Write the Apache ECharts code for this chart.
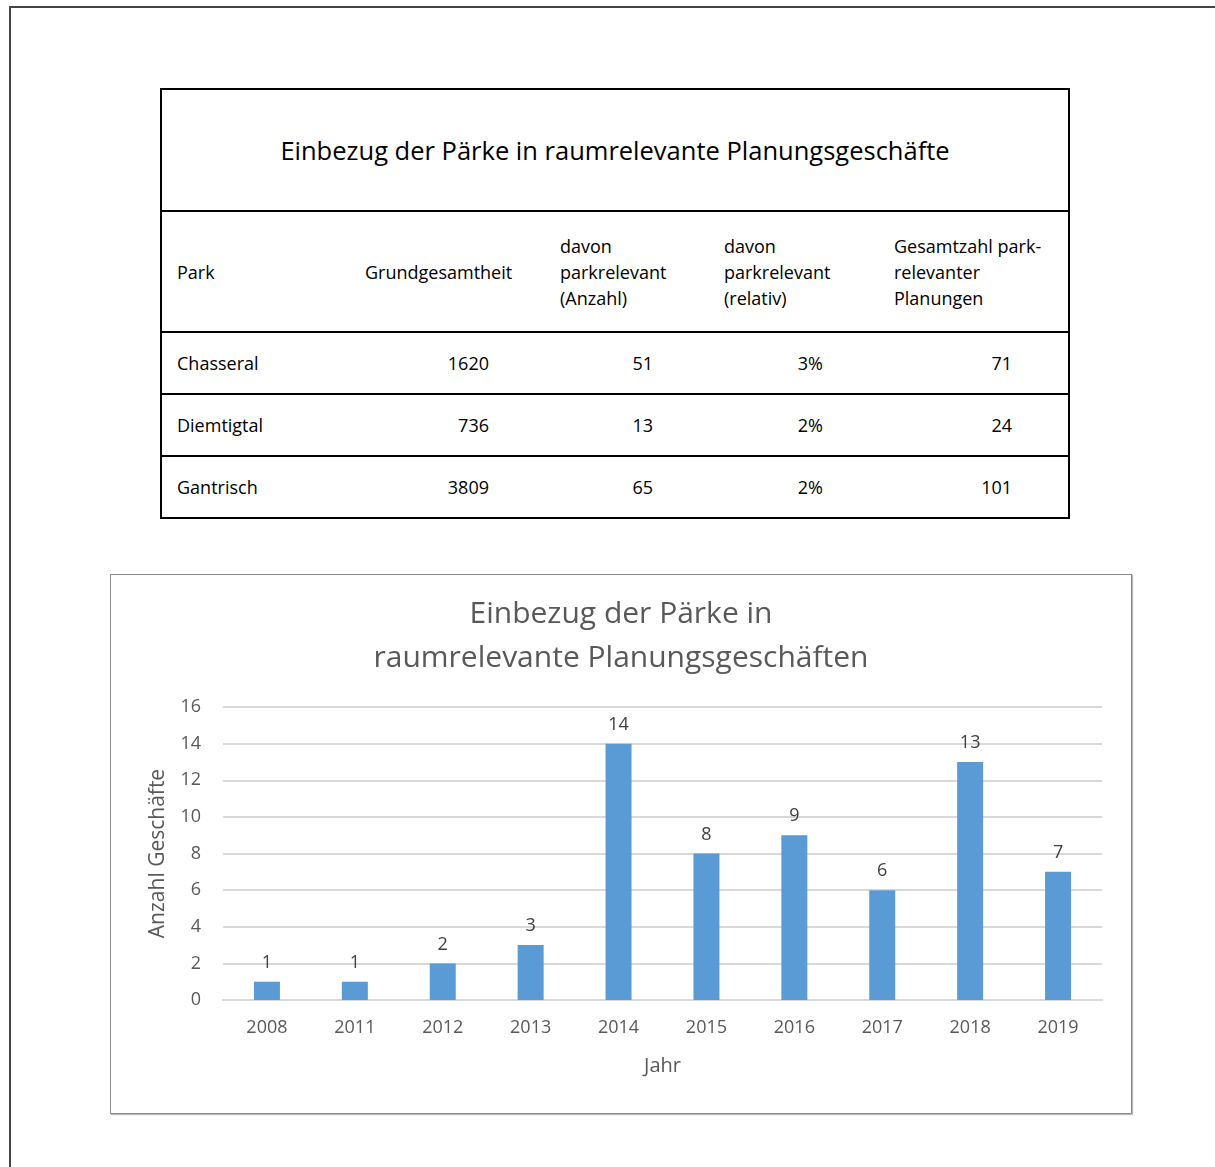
<!DOCTYPE html>
<html>
<head>
    <meta charset="utf-8">
    <title>Einbezug der Pärke</title>
    <script src="https://cdn.jsdelivr.net/npm/echarts@6/dist/echarts.min.js"></script>
    <style>
        body { margin: 0; padding: 0; width: 1215px; height: 1167px; position: relative; background: #fff; font-family: "Open Sans", sans-serif; overflow: hidden; }
        #frame { position: absolute; left: 9px; top: 6px; width: 1220px; height: 1180px; border-top: 2px solid #444; border-left: 2px solid #444; }
        #tbl { position: absolute; left: 160px; top: 88px; width: 908px; border-collapse: collapse; table-layout: fixed; border: 2px solid #000; color: #000; font-size: 18px; }
        #tbl td { padding: 0; border-bottom: 2px solid #000; }
        #tbl .ttl { height: 120px; text-align: center; font-size: 25.5px; }
        #tbl .hd td { height: 119px; text-align: left; padding-left: 15px; line-height: 26px; white-space: nowrap; }
        #tbl .row td { height: 60px; text-align: right; padding-right: 56px; }
        #tbl .row td.nm { text-align: left; padding-left: 15px; padding-right: 0; }
        #box { position: absolute; left: 110px; top: 574px; width: 1020px; height: 538px; border: 1px solid #8a8a8a; box-shadow: 1px 1px 1px #bbb; }
        #main { width: 1020px; height: 538px; }
    </style>
</head>
<body>
<div id="frame"></div>

<table id="tbl">
    <colgroup>
        <col style="width:189px"><col style="width:195px"><col style="width:164px"><col style="width:170px"><col style="width:190px">
    </colgroup>
    <tbody id="tbody"></tbody>
</table>

<div id="box"><div id="main"></div></div>

<script type="text/javascript">
    // Tabelle
    var tableTitle = 'Einbezug der Pärke in raumrelevante Planungsgeschäfte';
    var tableHeader = ['Park', 'Grundgesamtheit', 'davon<br>parkrelevant<br>(Anzahl)', 'davon<br>parkrelevant<br>(relativ)', 'Gesamtzahl park-<br>relevanter<br>Planungen'];
    var parks = ['Chasseral', 'Diemtigtal', 'Gantrisch'];
    var grundgesamtheit = [1620, 736, 3809];
    var relevantAnzahl = [51, 13, 65];
    var relevantRelativ = ['3%', '2%', '2%'];
    var gesamtzahl = [71, 24, 101];

    // Diagramm
    var jahre = ['2008', '2011', '2012', '2013', '2014', '2015', '2016', '2017', '2018', '2019'];
    var anzahl = [1, 1, 2, 3, 14, 8, 9, 6, 13, 7];

    var html = '<tr><td class="ttl" colspan="5">' + tableTitle + '</td></tr>';
    html += '<tr class="hd">';
    for (var i = 0; i < tableHeader.length; i++) {
        html += '<td>' + tableHeader[i] + '</td>';
    }
    html += '</tr>';
    for (var j = 0; j < parks.length; j++) {
        html += '<tr class="row"><td class="nm">' + parks[j] + '</td><td>' + grundgesamtheit[j] + '</td><td>' +
            relevantAnzahl[j] + '</td><td>' + relevantRelativ[j] + '</td><td>' + gesamtzahl[j] + '</td></tr>';
    }
    document.getElementById('tbody').innerHTML = html;

    var myChart = echarts.init(document.getElementById('main'));
    var font = '"Open Sans", sans-serif';
    var option = {
        animation: false,
        title: {
            text: 'Einbezug der Pärke in\nraumrelevante Planungsgeschäften',
            left: 'center',
            top: 12,
            textStyle: { fontFamily: font, fontSize: 30, fontWeight: 'normal', color: '#595959', lineHeight: 44 }
        },
        grid: { left: 112, right: 29, top: 132, bottom: 113 },
        xAxis: {
            type: 'category',
            data: jahre,
            name: 'Jahr',
            nameLocation: 'middle',
            nameGap: 56,
            nameTextStyle: { fontFamily: font, fontSize: 20, color: '#595959' },
            axisLine: { lineStyle: { color: '#d9d9d9', width: 2 } },
            axisTick: { show: false },
            axisLabel: { fontFamily: font, fontSize: 18, color: '#595959', margin: 19 }
        },
        yAxis: {
            type: 'value',
            min: 0,
            max: 16,
            interval: 2,
            name: 'Anzahl Geschäfte',
            nameLocation: 'middle',
            nameGap: 54,
            nameTextStyle: { fontFamily: font, fontSize: 21, color: '#595959' },
            axisLine: { show: false },
            axisTick: { show: false },
            axisLabel: { fontFamily: font, fontSize: 18, color: '#595959', margin: 22 },
            splitLine: { lineStyle: { color: '#d9d9d9', width: 2 } }
        },
        series: [{
            name: 'Anzahl',
            type: 'bar',
            data: anzahl,
            barWidth: 26,
            itemStyle: { color: '#5b9bd5' },
            label: { show: true, position: 'top', distance: 10, fontFamily: font, fontSize: 18, color: '#404040' }
        }]
    };
    myChart.setOption(option);
</script>
</body>
</html>
